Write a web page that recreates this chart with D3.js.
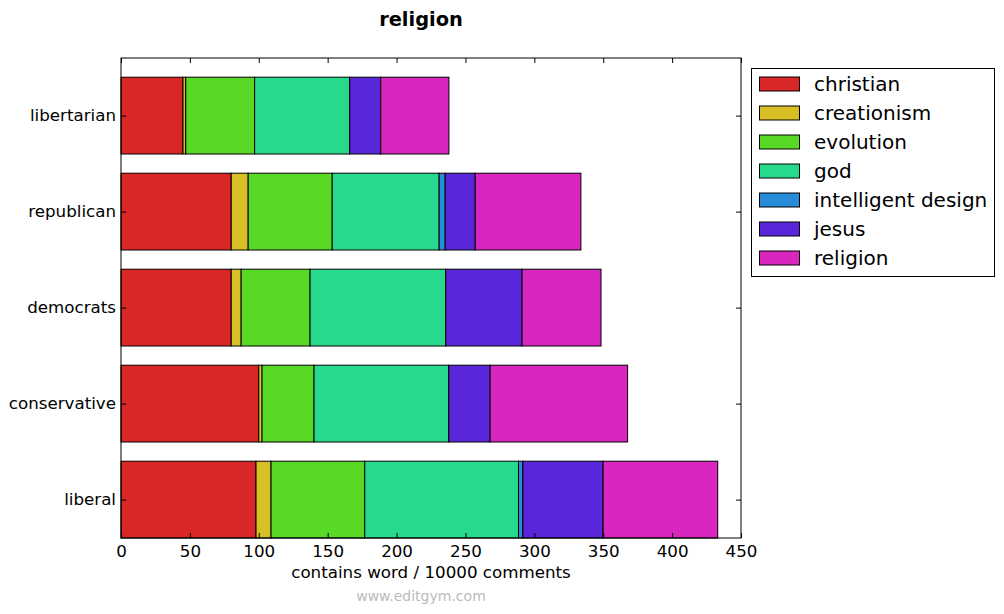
<!DOCTYPE html>
<html><head><meta charset="utf-8">
<script src="https://cdn.jsdelivr.net/npm/d3@7"></script>
<style>body{margin:0;background:#fff;} svg{display:block;font-family:"DejaVu Sans",sans-serif;}</style>
</head><body>
<svg id="c" width="1004" height="614"></svg>
<script>
const categories = ["liberal","conservative","democrats","republican","libertarian"];
const seriesNames = ["christian","creationism","evolution","god","intelligent design","jesus","religion"];
const colors = ["#d92626","#d9bf26","#59d926","#26d98c","#268cd9","#5926d9","#d926bf"];
const christian = [98, 100, 80, 80, 45];
const creationism = [10.9, 2.4, 7.2, 12.3, 2];
const evolution = [68, 37.7, 50, 61, 50];
const god = [111.6, 97.8, 98.5, 77.6, 69];
const intelligentDesign = [3.2, 0, 0, 4.4, 0];
const jesus = [58.2, 30, 55.4, 21.8, 22.5];
const religion = [83.2, 99.8, 57.3, 76.7, 49.5];
const xTicks = [0,50,100,150,200,250,300,350,400,450];

const seriesVals = [christian, creationism, evolution, god, intelligentDesign, jesus, religion];
const rows = categories.map((c,i)=>{const o={cat:c,idx:i}; seriesNames.forEach((s,j)=>o[s]=seriesVals[j][i]); return o;});
const stack = d3.stack().keys(seriesNames)(rows);

const svg = d3.select("#c");
const L=121, R=741, T=58, B=538;
const x = d3.scaleLinear().domain([0,450]).range([L,R]);
const y = d3.scaleLinear().domain([-0.4,4.6]).range([B,T]);
const bh = 0.8;

stack.forEach((layer,j)=>{
  svg.append("g").selectAll("rect").data(layer).enter().append("rect")
    .attr("x",d=>x(d[0])).attr("width",d=>x(d[1])-x(d[0]))
    .attr("y",d=>y(d.data.idx+bh/2)).attr("height",d=>y(d.data.idx-bh/2)-y(d.data.idx+bh/2))
    .attr("fill",colors[j]).attr("stroke","#000").attr("stroke-width",1);
});

svg.append("rect").attr("x",L).attr("y",T).attr("width",R-L).attr("height",B-T)
  .attr("fill","none").attr("stroke","#000").attr("stroke-width",1);

const xa = svg.append("g").attr("transform",`translate(0,${B})`)
  .call(d3.axisBottom(x).tickValues(xTicks).tickSize(-5).tickPadding(7).tickFormat(d3.format("d")));
xa.select(".domain").remove();
xa.selectAll("text").attr("font-size","16.7px").attr("font-family","DejaVu Sans").attr("fill","#000");
const xt = svg.append("g").attr("transform",`translate(0,${T})`)
  .call(d3.axisTop(x).tickValues(xTicks).tickSize(-5).tickFormat(""));
xt.select(".domain").remove();

const yTickVals = categories.map((c,i)=>i);
const ya = svg.append("g").attr("transform",`translate(${L},0)`)
  .call(d3.axisLeft(y).tickValues(yTickVals).tickSize(-5).tickPadding(5).tickFormat(i=>categories[i]));
ya.select(".domain").remove();
ya.selectAll("text").attr("font-size","16.7px").attr("font-family","DejaVu Sans").attr("fill","#000");
const yr = svg.append("g").attr("transform",`translate(${R},0)`)
  .call(d3.axisRight(y).tickValues(yTickVals).tickSize(-5).tickFormat(""));
yr.select(".domain").remove();

svg.append("text").attr("x",421).attr("y",26).attr("text-anchor","middle")
  .attr("font-size","19.4px").attr("font-weight","bold").text("religion");
svg.append("text").attr("x",431).attr("y",578).attr("text-anchor","middle")
  .attr("font-size","16.7px").text("contains word / 10000 comments");
svg.append("text").attr("x",421).attr("y",601).attr("text-anchor","middle")
  .attr("font-size","14px").attr("fill","#bbb").text("www.editgym.com");

const lg = svg.append("g");
lg.append("rect").attr("x",751.5).attr("y",68.5).attr("width",243).attr("height",208)
  .attr("fill","#fff").attr("stroke","#000").attr("stroke-width",1);
seriesNames.forEach((s,j)=>{
  const cy = 84 + j*29;
  lg.append("rect").attr("x",759.5).attr("y",cy-7).attr("width",40).attr("height",14)
    .attr("fill",colors[j]).attr("stroke","#000").attr("stroke-width",1);
  lg.append("text").attr("x",814).attr("y",cy+7).attr("font-size","20px").text(s);
});
</script>
</body></html>
